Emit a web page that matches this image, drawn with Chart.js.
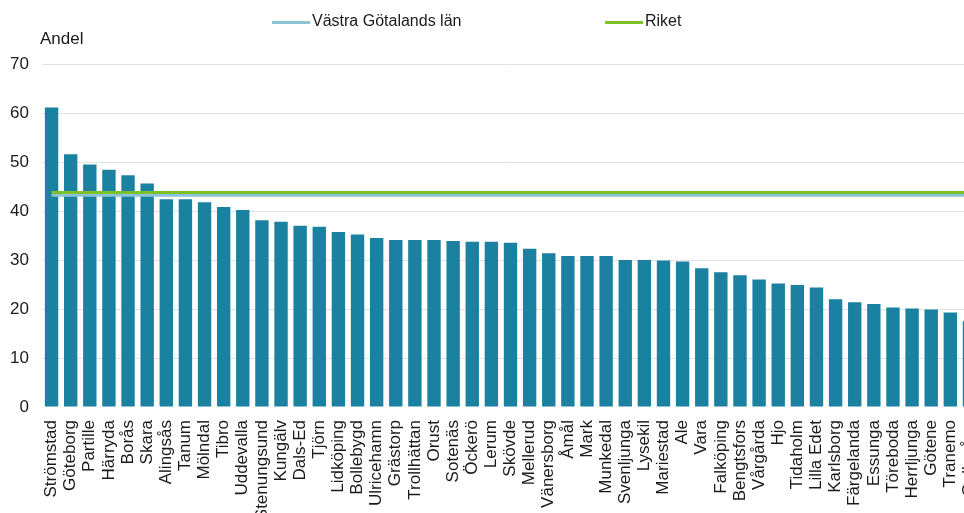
<!DOCTYPE html>
<html>
<head>
<meta charset="utf-8">
<script src="https://cdn.jsdelivr.net/npm/chart.js@4"></script>
<style>
  html, body { margin: 0; padding: 0; overflow: hidden; background: #fff; }
  #wrap { width: 995px; height: 513px; }
</style>
</head>
<body>
<div id="wrap"><canvas id="myChart"></canvas></div>
<script>
// DATA
const kommuner = [
    'Strömstad', 'Göteborg', 'Partille', 'Härryda', 'Borås', 'Skara', 'Alingsås', 'Tanum', 'Mölndal', 'Tibro',
    'Uddevalla', 'Stenungsund', 'Kungälv', 'Dals-Ed', 'Tjörn', 'Lidköping', 'Bollebygd', 'Ulricehamn', 'Grästorp', 'Trollhättan',
    'Orust', 'Sotenäs', 'Öckerö', 'Lerum', 'Skövde', 'Mellerud', 'Vänersborg', 'Åmål', 'Mark', 'Munkedal',
    'Svenljunga', 'Lysekil', 'Mariestad', 'Ale', 'Vara', 'Falköping', 'Bengtsfors', 'Vårgårda', 'Hjo', 'Tidaholm',
    'Lilla Edet', 'Karlsborg', 'Färgelanda', 'Essunga', 'Töreboda', 'Herrljunga', 'Götene', 'Tranemo', 'Gullspång'
];
const andel = [
    61.1, 51.6, 49.5, 48.4, 47.3, 45.6, 42.4, 42.4, 41.8, 40.8,
    40.2, 38.1, 37.8, 37.0, 36.8, 35.7, 35.2, 34.5, 34.1, 34.1,
    34.1, 33.9, 33.7, 33.7, 33.5, 32.3, 31.4, 30.8, 30.8, 30.8,
    30.0, 30.0, 29.9, 29.7, 28.3, 27.5, 26.9, 26.0, 25.2, 24.9,
    24.4, 22.0, 21.4, 21.0, 20.3, 20.1, 19.9, 19.3, 17.5
];
const vastraGotaland = 43.2;
const riket = 43.8;
const yTicks = [0, 10, 20, 30, 40, 50, 60, 70];

const FONT = '"Liberation Sans", Arial, sans-serif';

// LEGEND + "Andel" DRAWN ON TOP
const headerPlugin = {
    id: 'header',
    afterDraw(chart) {
        const ctx = chart.ctx;
        ctx.save();
        ctx.textBaseline = 'middle';
        ctx.fillStyle = '#1a1a1a';
        ctx.font = '17px ' + FONT;
        ctx.fillText('Andel', 40, 39);

        const spots = [272, 605];
        ctx.font = '16px ' + FONT;
        [1, 2].forEach((dsIndex, i) => {
            const ds = chart.data.datasets[dsIndex];
            ctx.fillStyle = ds.borderColor;
            ctx.fillRect(spots[i], 21, 38, 3);
            ctx.fillStyle = '#1a1a1a';
            ctx.fillText(ds.label, spots[i] + 40, 22);
        });
        ctx.restore();
    }
};

let ctx = document.getElementById('myChart').getContext('2d');
new Chart(ctx, {
    data: {
        labels: kommuner,
        datasets: [{
            type: 'bar',
            label: 'Andel',
            data: andel,
            backgroundColor: '#1a81a1',
            categoryPercentage: 1,
            barPercentage: 0.7,
            order: 3
        },
        {
            type: 'line',
            label: 'Västra Götalands län',
            data: kommuner.map(() => vastraGotaland),
            borderColor: '#8dc3d6',
            borderWidth: 3,
            pointRadius: 0,
            order: 2
        },
        {
            type: 'line',
            label: 'Riket',
            data: kommuner.map(() => riket),
            borderColor: '#7cc02a',
            borderWidth: 3,
            pointRadius: 0,
            order: 1
        }]
    },
    options: {
        responsive: true,
        maintainAspectRatio: false,
        animation: false,
        layout: { padding: { top: 64, right: 14, bottom: 0, left: 0 } },
        plugins: {
            legend: { display: false },
            tooltip: { enabled: false }
        },
        scales: {
            x: {
                grid: { display: false },
                border: { display: false },
                ticks: {
                    autoSkip: false,
                    minRotation: 90,
                    maxRotation: 90,
                    padding: 5,
                    color: '#1a1a1a',
                    font: { family: FONT, size: 17 }
                },
                afterFit: (axis) => { axis.height = 106; }
            },
            y: {
                min: 0,
                max: 70,
                afterBuildTicks: (axis) => { axis.ticks = yTicks.map(v => ({ value: v })); },
                grid: {
                    drawTicks: false,
                    color: (c) => c.tick && c.tick.value === 0 ? 'rgba(0,0,0,0)' : '#e2e2e2'
                },
                border: { display: false },
                ticks: {
                    padding: 13,
                    color: '#1a1a1a',
                    font: { family: FONT, size: 17 }
                },
                afterFit: (axis) => { axis.width = 42; }
            }
        }
    },
    plugins: [headerPlugin]
});
</script>
</body>
</html>
